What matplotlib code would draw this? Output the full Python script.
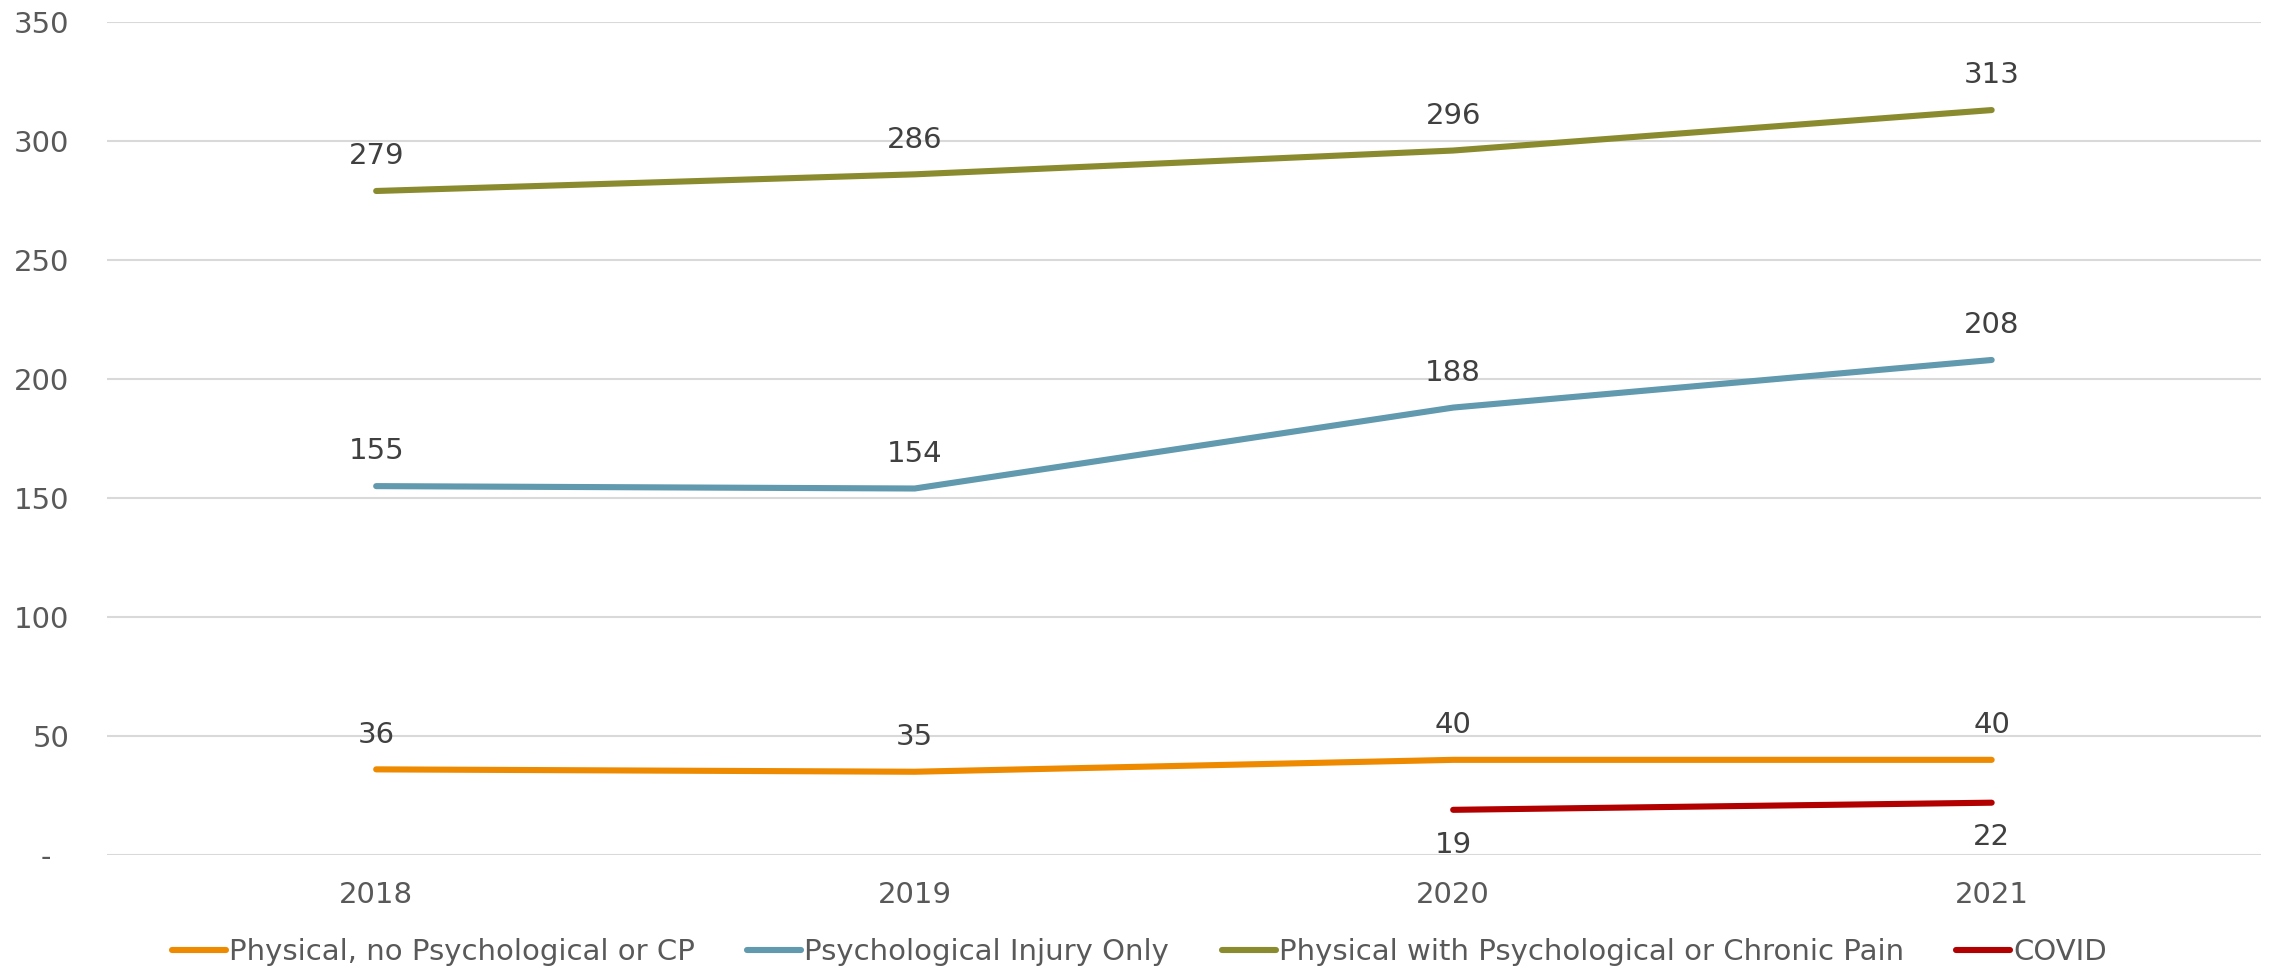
#!/usr/bin/env python3

import matplotlib
matplotlib.use("Agg")
import matplotlib.pyplot as plt

years = ['2018', '2019', '2020', '2021']
physical_no_psych = [36, 35, 40, 40]
psych_only = [155, 154, 188, 208]
physical_with_psych = [279, 286, 296, 313]
covid = [None, None, 19, 22]

series = [
    ('Physical, no Psychological or CP', physical_no_psych, '#EE8A00', 'above'),
    ('Psychological Injury Only', psych_only, '#6199AF', 'above'),
    ('Physical with Psychological or Chronic Pain', physical_with_psych, '#8A8B2E', 'above'),
    ('COVID', covid, '#B20000', 'below'),
]

def main():
    plt.rcParams['font.family'] = ['DejaVu Sans']

    fig = plt.figure(figsize=(22.7, 9.69), dpi=100)
    ax = fig.add_axes([0.0471, 0.1176, 0.9489, 0.8597])

    x = list(range(len(years)))
    for name, vals, color, pos in series:
        xs = [i for i, v in zip(x, vals) if v is not None]
        ys = [v for v in vals if v is not None]
        ax.plot(xs, ys, color=color, lw=4.4, solid_capstyle='round',
                solid_joinstyle='round', label=name)
        off = 25 if pos == 'above' else -25
        for xi, yi in zip(xs, ys):
            ax.annotate(str(yi), (xi, yi), xytext=(0, off), textcoords='offset points',
                        ha='center', va='center', fontsize=21, color='#404040')

    ax.set_xlim(-0.5, 3.5)
    ax.set_ylim(0, 350)
    ax.set_xticks(x)
    ax.set_xticklabels(years)
    ax.set_yticks(range(0, 351, 50))
    ax.set_yticklabels(['-  '] + [str(v) for v in range(50, 351, 50)])
    ax.tick_params(axis='both', length=0, labelsize=21, labelcolor='#595959')
    ax.tick_params(axis='x', pad=19)
    ax.tick_params(axis='y', pad=27)
    ax.grid(axis='y', color='#D9D9D9', lw=1.5)
    ax.set_axisbelow(True)
    for s in ax.spines.values():
        s.set_visible(False)

    leg = fig.legend(loc='center', bbox_to_anchor=(0.502, 0.0175), ncol=4, frameon=False,
                     fontsize=21, handlelength=1.85, handletextpad=0.1, columnspacing=1.8,
                     borderaxespad=0, borderpad=0)
    for t in leg.get_texts():
        t.set_color('#595959')

    fig.savefig('out.png', dpi=100)

if __name__ == "__main__":
    main()
